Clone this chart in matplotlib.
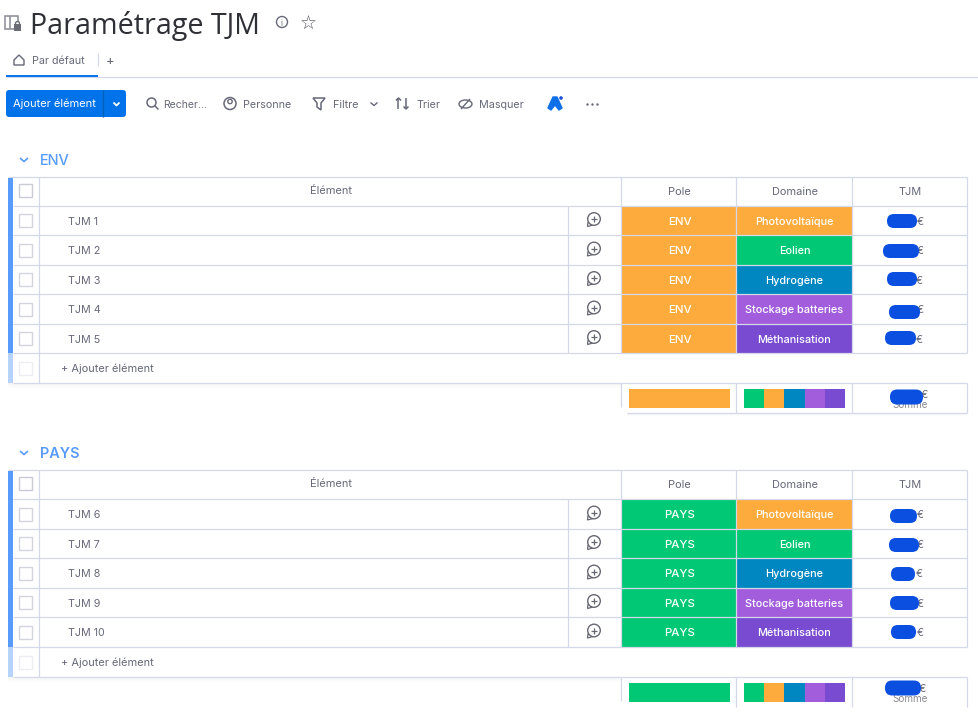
import matplotlib
matplotlib.use("Agg")
import matplotlib.pyplot as plt
from matplotlib.patches import Rectangle, FancyBboxPatch, Circle, Polygon, Ellipse

W, H = 979, 713
TITLE = "Paramétrage TJM"
TAB = "Par défaut"
TOOLBAR = ["Recher...", "Personne", "Filtre", "Trier", "Masquer"]
GROUPS = ["ENV", "PAYS"]
ITEMS = [["TJM 1", "TJM 2", "TJM 3", "TJM 4", "TJM 5"],
         ["TJM 6", "TJM 7", "TJM 8", "TJM 9", "TJM 10"]]
DOMAINS = ["Photovoltaïque", "Eolien", "Hydrogène", "Stockage batteries", "Méthanisation"]
HEADERS = ["Pole", "Domaine", "TJM"]
SUMMARY_ORDER = ["Eolien", "Photovoltaïque", "Hydrogène", "Stockage batteries", "Méthanisation"]
SUMMARY_COUNTS = [1, 1, 1, 1, 1]

ORANGE, GREEN, BLUE, PURPLE, VIOLET = "#fdab3d", "#00c875", "#0086c0", "#a25ddc", "#784bd1"
DOMAIN_COLORS = dict(zip(DOMAINS, [ORANGE, GREEN, BLUE, PURPLE, VIOLET]))
POLE_COLORS = [ORANGE, GREEN]
LINE, TXT, GREY, ACC, PILL = "#d5d8e8", "#323338", "#676879", "#579bfc", "#0a4fe0"

GROUP_TOP = [176.5, 469.5]
ROW_EDGES = [[205.5, 234.5, 264.5, 293.5, 323.5, 352.5], [498.5, 528.5, 557.5, 587.5, 616.5, 646.5]]
HEAD_Y = [159.5, 452.5]
PILLS = [[(887, 917, 221), (883, 919, 251), (887, 917, 279), (889, 920, 312), (885, 916, 338)],
         [(890, 917, 516), (889, 919, 545), (891, 915, 574), (890, 919, 603), (891, 916, 632)]]
SUM_PILL = [(890, 923, 397), (885, 921, 688)]
EURO_X = [[920, 920, 919, 920, 919], [920, 920, 919, 920, 920]]
COLS = [568.5, 621.5, 736.5, 852.5, 967.5]

plt.rcParams["font.family"] = ["Inter", "DejaVu Sans"]
fig = plt.figure(figsize=(W / 100, H / 100), dpi=100, facecolor="white")
ax = fig.add_axes([0, 0, 1, 1])
ax.set_xlim(0, W); ax.set_ylim(H, 0); ax.axis("off")

def px(p):
    return p * 0.72

def T(x, y, s, size, color=TXT, ha="center", weight="normal", family=None):
    kw = {"family": family} if family else {}
    ax.text(x, y, s, fontsize=px(size), color=color, ha=ha, va="center_baseline", fontweight=weight, zorder=6, **kw)

def L(xs, ys, color=LINE, lw=0.9, z=3, **k):
    ax.plot(xs, ys, color=color, lw=lw, solid_capstyle="butt", zorder=z, **k)

def R(x0, y0, x1, y1, fc, ec="none", lw=0, z=1):
    ax.add_patch(Rectangle((x0, y0), x1 - x0, y1 - y0, fc=fc, ec=ec, lw=lw, zorder=z))

def RR(x0, y0, x1, y1, r, fc, ec="none", lw=0, z=3):
    ax.add_patch(FancyBboxPatch((x0 + r, y0 + r), x1 - x0 - 2 * r, y1 - y0 - 2 * r,
                                boxstyle=f"round,pad={r},rounding_size={r}", fc=fc, ec=ec, lw=lw, zorder=z))

# page heading
T(30, 22.5, TITLE, 28.6, "#2f3035", ha="left", weight="medium", family="Open Sans")
R(5, 16, 18, 29, "white", "#8a8b94", 1.1)
L([10, 10], [16, 29], "#8a8b94", 1.1)
R(14, 24, 21, 31, "#6a6b74", z=4)
ax.add_patch(Circle((17.5, 23.5), 2, fc="white", ec="#6a6b74", lw=1, zorder=3))
ax.add_patch(Circle((282, 22), 5.5, fc="white", ec=GREY, lw=1))
T(282, 22, "i", 8, GREY)
T(308.5, 22, "☆", 19, "#55565f", family="DejaVu Sans")

# tab row
ax.add_patch(Polygon([(14, 60), (19, 55), (24, 60), (24, 65), (14, 65)], closed=True, fc="none", ec=GREY, lw=1))
T(32, 59.5, TAB, 10.7, GREY, ha="left")
L([98, 98], [53, 66], LINE)
T(110, 60, "+", 13, GREY)
L([6, 979], [76.5, 76.5], LINE)
L([6, 98], [75.5, 75.5], "#0073ea", 1.4)

# toolbar
RR(6, 90, 126, 117, 3, "#0073ea")
L([103, 103], [90, 117], "#0060b9", 1, z=4)
T(54.5, 103, "Ajouter élément", 11.1, "white")
L([113.5, 116.5, 119.5], [102.5, 105.5, 102.5], "white", 1.3, z=5)
ax.add_patch(Circle((151.5, 102.5), 4.5, fc="none", ec=GREY, lw=1.1))
L([155, 158.5], [106, 109.5], GREY, 1.1)
ax.add_patch(Circle((230, 103.5), 6, fc="none", ec=GREY, lw=1.1))
ax.add_patch(Circle((230, 101.5), 2.2, fc="none", ec=GREY, lw=1))
ax.add_patch(Polygon([(313, 98), (325, 98), (321, 103), (321, 110), (317, 107), (317, 103)], closed=True, fc="none", ec=GREY, lw=1.1))
L([370.5, 374, 377.5], [102.5, 105.5, 102.5], GREY, 1)
L([398.5, 398.5], [98, 109], GREY, 1.1); L([396, 398.5, 401], [100.5, 98, 100.5], GREY, 1.1)
L([406, 406], [98, 109], GREY, 1.1); L([403.5, 406, 408.5], [106.5, 109, 106.5], GREY, 1.1)
ax.add_patch(Ellipse((465.5, 104), 13, 8, fc="none", ec=GREY, lw=1))
L([461, 470], [109, 99], GREY, 1)
for x, s, size in zip([163, 243.5, 333, 416, 479], TOOLBAR, [10.5, 10.8, 10.8, 10.8, 10.8]):
    T(x, 103.5, s, size, GREY, ha="left")
ax.add_patch(Polygon([(548, 108), (553, 97), (557, 97), (562, 108), (559, 110), (555, 105), (551, 110)], closed=True, fc="#0f6fe8", ec="#0f6fe8", lw=1, joinstyle="round"))
ax.add_patch(Circle((561, 98), 1.8, fc="#1b4fd8"))
ax.scatter([587, 592, 597], [103.5] * 3, s=3, c=GREY, linewidths=0)

def icon_update(x, y):
    c = "#676872"
    ax.add_patch(Circle((x, y), 6.3, fc="white", ec=c, lw=1, zorder=3))
    ax.add_patch(Polygon([(x - 6, y + 3), (x - 6.5, y + 7.5), (x - 1, y + 6)], closed=True, fc="white", ec=c, lw=0.9, zorder=2))
    L([x - 3, x + 3], [y, y], c, 0.9, z=4)
    L([x, x], [y - 3, y + 3], c, 0.9, z=4)

for g, name in enumerate(GROUPS):
    top, edges, color = GROUP_TOP[g], ROW_EDGES[g], POLE_COLORS[g]
    add_bot = edges[-1] + 30
    sum_bot = add_bot + 30
    hy = HEAD_Y[g]
    # group title
    L([20, 24, 28], [hy - 1.5, hy + 2, hy - 1.5], ACC, 1.2)
    T(40, hy, name, 14.5, ACC, ha="left", weight="semibold" if g else "medium")
    # shadow under table
    for i, a in enumerate([0.06, 0.045, 0.03, 0.02, 0.01]):
        R(8, add_bot + i, 621, add_bot + i + 1, (0.3, 0.3, 0.45, a))
    # left bar
    R(8, top + 1, 13, edges[-1], ACC, z=4)
    R(8, edges[-1], 13, add_bot, "#b6d3fd", z=4)
    # grid
    L([8, COLS[4]], [top, top])
    for y in edges:
        L([13, COLS[4]], [y, y])
    L([13, COLS[1]], [add_bot, add_bot])
    L([39, 39], [top, add_bot])
    L([COLS[0]] * 2, [edges[0], edges[-1]])
    for x in COLS[1:4]:
        L([x, x], [top, edges[-1]])
    L([COLS[4]] * 2, [top, edges[-1]])
    # header row
    R(19.5, top + 7.5, 32, top + 20.5, "white", "#c9cbd6", 1, z=3)
    T(331, top + 13.5, "Élément", 11, GREY)
    for x, s in zip([679, 795, 910.5], HEADERS):
        T(x, top + 14.5, s, 11, GREY)
    # item rows
    for r, item in enumerate(ITEMS[g]):
        y0, y1 = edges[r], edges[r + 1]
        ym = (y0 + y1) / 2 + 0.5
        R(19.5, ym - 6.5, 32, ym + 6.5, "white", "#d3d5de", 1, z=3)
        T(68, ym + 0.3, item, 10.7, GREY, ha="left")
        icon_update(594, ym - 1.5)
        R(COLS[1], y0, COLS[2], y1, color, z=2)
        T(679.5, ym + 0.3, name, 11.5, "white", weight="medium")
        dom = DOMAINS[r]
        R(COLS[2], y0, COLS[3], y1, DOMAIN_COLORS[dom], z=2)
        T(794.5, ym + 0.3, dom, 10.9, "white", weight="medium")
        x0, x1, yc = PILLS[g][r]
        T(EURO_X[g][r], ym + 0.3, "€", 10.5, GREY)
        RR(x0, yc - 7, x1, yc + 7, 6.9, PILL, z=7)
    # add row
    R(19.5, edges[-1] + 9, 32, edges[-1] + 22, "white", "#eceef3", 1, z=3)
    T(61.5, edges[-1] + 15.5, "+ Ajouter élément", 11, GREY, ha="left")
    # summary row
    L([COLS[1], COLS[4]], [add_bot, add_bot])
    L([COLS[1]] * 2, [add_bot, sum_bot - 6])
    for x in COLS[2:]:
        L([x, x], [add_bot, sum_bot])
    if g == 0:
        L([627, COLS[4]], [sum_bot, sum_bot])
        for i, a in enumerate([0.05, 0.03, 0.015]):
            R(627, sum_bot + 0.5 + i, COLS[4], sum_bot + 1.5 + i, (0.3, 0.3, 0.45, a))
    ax.barh(add_bot + 16, 101, left=629, height=19, color=color, zorder=3)
    unit = 101 / sum(SUMMARY_COUNTS)
    left = 744
    for d, c in zip(SUMMARY_ORDER, SUMMARY_COUNTS):
        ax.barh(add_bot + 16, c * unit, left=left, height=19, color=DOMAIN_COLORS[d], zorder=3)
        left += c * unit
    x0, x1, yc = SUM_PILL[g]
    T(x1 + 1.5, add_bot + 11.5, "€", 11, GREY)
    T(910, add_bot + 22, "Somme", 10, "#8a8b94")
    RR(x0, yc - 7.5, x1, yc + 7.5, 7.2, PILL, z=7)

fig.savefig("out.png", dpi=100)
